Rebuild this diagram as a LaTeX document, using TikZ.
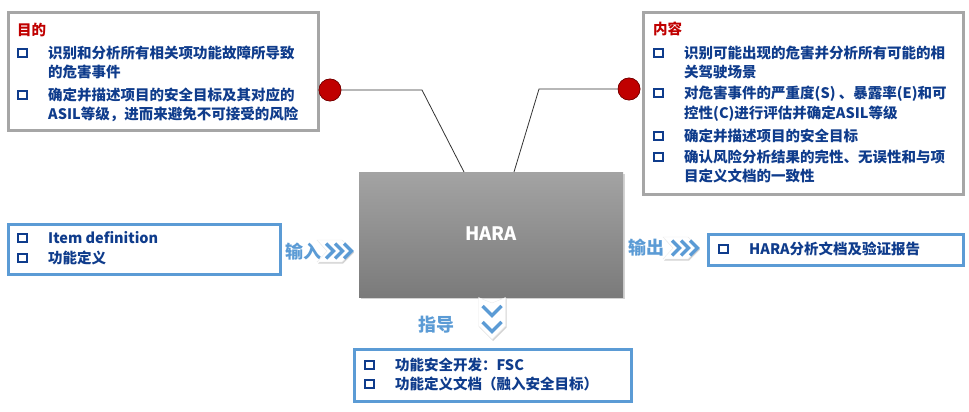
\documentclass[tikz,border=0pt]{standalone}
\usepackage{fontspec}
\setmainfont{Noto Sans CJK SC}
\usetikzlibrary{shadows}
\definecolor{tblue}{HTML}{0F3C8C}
\definecolor{tred}{HTML}{C00000}
\definecolor{boxgray}{HTML}{A6A6A6}
\definecolor{boxblue}{HTML}{5B9BD5}
\definecolor{dotred}{HTML}{C00000}
\begin{document}
\begin{tikzpicture}[x=1pt,y=-1pt,
  font=\bfseries\fontsize{14.5}{17}\selectfont,
  graybox/.style={draw=boxgray, line width=3pt, fill=white, rectangle, anchor=north west, inner sep=0pt},
  bluebox/.style={draw=boxblue, line width=3pt, fill=white, rectangle, anchor=north west, inner sep=0pt},
  sqb/.style={draw=tblue, line width=2.3pt, minimum size=8.5pt, inner sep=0pt, rectangle},
  itemtxt/.style={anchor=west, inner sep=0pt, text=tblue, text height=12.3pt, text depth=1.7pt},
  titletxt/.style={anchor=west, inner sep=0pt, text=tred, text height=12.3pt, text depth=1.7pt},
  flowtxt/.style={inner sep=0pt, text=boxblue, font=\bfseries\fontsize{18}{20}\selectfont},
  reddot/.style={circle, fill=dotred, draw=dotred!60!black, line width=0.6pt, minimum size=22pt, inner sep=0pt},
  link/.style={draw=black!80, line width=0.8pt},
  chevwhite/.style={fill=white, draw=black!8, line width=0.4pt, drop shadow={shadow xshift=1.2pt, shadow yshift=-1.5pt, opacity=0.35}},
  chevblue/.style={draw=boxblue, line width=3.4pt}
]
\useasboundingbox (0,0) rectangle (969,412);

% ---------- boxes ----------
\node[graybox, minimum width=310.5pt, minimum height=118pt] (goalbox) at (6.5,11) {};
\node[graybox, minimum width=320pt, minimum height=182pt] (contbox) at (642,11) {};
\node[bluebox, minimum width=272pt, minimum height=50pt] (inbox) at (7,223) {};
\node[bluebox, minimum width=255pt, minimum height=31pt] (outbox) at (707,233) {};
\node[bluebox, minimum width=277pt, minimum height=52pt] (guidebox) at (353,348) {};

% ---------- HARA ----------
\node[rectangle, anchor=north west, minimum width=264pt, minimum height=125pt, inner sep=0pt,
      top color=black!36, bottom color=black!52,
      drop shadow={shadow xshift=1.5pt, shadow yshift=-1.5pt, opacity=0.35}] (hara) at (359,172) {};
\node[text=white, inner sep=0pt, font=\bfseries\fontsize{18.5}{20}\selectfont] (haratxt) at (491,234) {HARA};

% ---------- connectors ----------
\coordinate (gk) at (422,90);
\coordinate (gh) at (464,172);
\coordinate (ck) at (539,89);
\coordinate (ch) at (514,172);
\node[reddot] (gdot) at (330,90) {};
\node[reddot] (cdot) at (629,89) {};
\draw[link] (gdot.east) -- (gk) -- (gh);
\draw[link] (cdot.west) -- (ck) -- (ch);
\node[reddot] at (gdot) {};
\node[reddot] at (cdot) {};

% ---------- goal box text ----------
\node[titletxt] (gt) at (17,30) {目的};
\node[sqb] (gb1) at (22.5,53) {};
\node[itemtxt] (g1) at (48,53) {识别和分析所有相关项功能故障所导致};
\node[itemtxt] (g2) at (48,72) {的危害事件};
\node[sqb] (gb2) at (22.5,95) {};
\node[itemtxt] (g3) at (48,95) {确定并描述项目的安全目标及其对应的};
\node[itemtxt] (g4) at (48,114) {ASIL等级，进而来避免不可接受的风险};

% ---------- content box text ----------
\node[titletxt] (ct) at (653,29) {内容};
\node[sqb] (cb1) at (658.5,53) {};
\node[itemtxt] (c1) at (684,53) {识别可能出现的危害并分析所有可能的相};
\node[itemtxt] (c2) at (684,72) {关驾驶场景};
\node[sqb] (cb2) at (658.5,93) {};
\node[itemtxt] (c3) at (684,93) {对危害事件的严重度(S) 、暴露率(E)和可};
\node[itemtxt] (c4) at (684,113) {控性(C)进行评估并确定ASIL等级};
\node[sqb] (cb3) at (658.5,136) {};
\node[itemtxt] (c5) at (684,136) {确定并描述项目的安全目标};
\node[sqb] (cb4) at (658.5,157) {};
\node[itemtxt] (c6) at (684,157) {确认风险分析结果的完性、无误性和与项};
\node[itemtxt] (c7) at (684,176) {目定义文档的一致性};

% ---------- input ----------
\node[sqb] (ib1) at (22.5,238) {};
\node[itemtxt] (i1) at (48,238) {Item definition};
\node[sqb] (ib2) at (22.5,258) {};
\node[itemtxt] (i2) at (48,258) {功能定义};
\node[flowtxt] (intxt) at (303,252) {输入};
\filldraw[chevwhite] (317,240) -- (342,240) -- (353,251) -- (342,262) -- (317,262) -- (327,251) -- cycle;
\draw[chevblue] (326,243.5) -- (333.5,251) -- (326,258.5);
\draw[chevblue] (335,243.5) -- (342.5,251) -- (335,258.5);
\draw[chevblue] (344,243.5) -- (351.5,251) -- (344,258.5);

% ---------- output ----------
\node[flowtxt] (outtxt) at (646,248) {输出};
\filldraw[chevwhite] (663,237) -- (688,237) -- (699,248) -- (688,259) -- (663,259) -- (673,248) -- cycle;
\draw[chevblue] (672,240.5) -- (679.5,248) -- (672,255.5);
\draw[chevblue] (681,240.5) -- (688.5,248) -- (681,255.5);
\draw[chevblue] (690,240.5) -- (697.5,248) -- (690,255.5);
\node[sqb] (ob1) at (723.5,249) {};
\node[itemtxt] (o1) at (749,249) {HARA分析文档及验证报告};

% ---------- guide ----------
\node[flowtxt] (guidetxt) at (436,325) {指导};
\filldraw[chevwhite] (478.5,297.5) -- (492,303) -- (505.5,297.5) -- (505.5,326) -- (492,339.5) -- (478.5,326) -- cycle;
\draw[chevblue] (482.5,306) -- (492,315.5) -- (501.5,306);
\draw[chevblue] (482.5,322) -- (492,331.5) -- (501.5,322);
\node[sqb] (ub1) at (369.5,365) {};
\node[itemtxt] (u1) at (395,365) {功能安全开发：FSC};
\node[sqb] (ub2) at (369.5,384) {};
\node[itemtxt] (u2) at (395,384) {功能定义文档（融入安全目标）};
\end{tikzpicture}
\end{document}
